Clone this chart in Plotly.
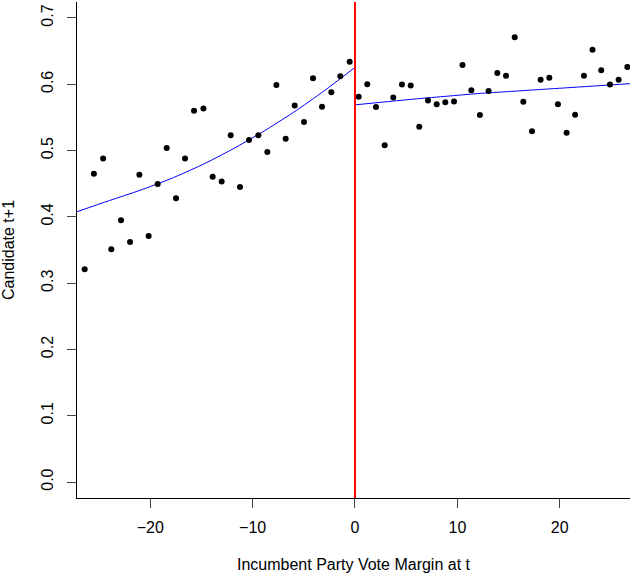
import plotly.graph_objects as go

# Binned means, left of cutoff
left_x = [-26.4, -25.5, -24.6, -23.8, -22.85, -21.97, -21.06, -20.15, -19.27, -18.39,
          -17.48, -16.6, -15.72, -14.8, -13.9, -13.02, -12.14, -11.23, -10.35, -9.44,
          -8.56, -7.68, -6.77, -5.89, -4.98, -4.1, -3.22, -2.31, -1.43, -0.52]
left_y = [0.321, 0.465, 0.488, 0.351, 0.395, 0.362, 0.4635, 0.371, 0.4495, 0.504,
          0.428, 0.488, 0.560, 0.5635, 0.4605, 0.4535, 0.523, 0.445, 0.516, 0.523,
          0.498, 0.599, 0.518, 0.568, 0.543, 0.609, 0.566, 0.588, 0.612, 0.634]

# Binned means, right of cutoff
right_x = [0.36, 1.2, 2.05, 2.9, 3.74, 4.59, 5.44, 6.28, 7.13, 7.98,
           8.82, 9.67, 10.5, 11.36, 12.2, 13.05, 13.9, 14.75, 15.6, 16.44,
           17.29, 18.13, 18.98, 19.82, 20.67, 21.5, 22.36, 23.2, 24.05, 24.9,
           25.75, 26.6]
right_y = [0.581, 0.600, 0.5656, 0.508, 0.580, 0.5998, 0.598, 0.536, 0.5757, 0.570,
           0.573, 0.574, 0.629, 0.591, 0.5535, 0.590, 0.617, 0.613, 0.671, 0.5736,
           0.529, 0.607, 0.610, 0.570, 0.527, 0.554, 0.613, 0.652, 0.621, 0.5998,
           0.607, 0.626]

# Fitted polynomial curves
fit_left_x = [-27.2, -24, -21, -18, -15, -12, -9, -6, -3, 0]
fit_left_y = [0.4075, 0.4245, 0.4400, 0.4575, 0.4780, 0.5018, 0.5283, 0.5577, 0.5902, 0.6255]
fit_right_x = [0, 3, 6, 9, 12, 15, 18, 21, 24, 27]
fit_right_y = [0.569, 0.5735, 0.578, 0.582, 0.586, 0.589, 0.592, 0.595, 0.598, 0.601]

x_ticks = [-20, -10, 0, 10, 20]
y_ticks = [0.0, 0.1, 0.2, 0.3, 0.4, 0.5, 0.6, 0.7]
y_tick_labels = ["0.0", "0.1", "0.2", "0.3", "0.4", "0.5", "0.6", "0.7"]
cutoff = 0

FONT = "Liberation Sans, Arial, sans-serif"

fig = go.Figure()
fig.add_trace(go.Scatter(x=fit_left_x, y=fit_left_y, mode="lines",
                         line=dict(color="blue", width=1, shape="spline", smoothing=0.6),
                         hoverinfo="skip"))
fig.add_trace(go.Scatter(x=fit_right_x, y=fit_right_y, mode="lines",
                         line=dict(color="blue", width=1, shape="spline", smoothing=0.6),
                         hoverinfo="skip"))
fig.add_trace(go.Scatter(x=left_x + right_x, y=left_y + right_y, mode="markers",
                         marker=dict(color="black", size=6)))
fig.add_shape(type="line", x0=cutoff, x1=cutoff, y0=0, y1=1, yref="paper",
              line=dict(color="red", width=2))

fig.update_layout(
    width=630, height=573,
    margin=dict(l=77, r=0, t=2, b=75),
    plot_bgcolor="white", paper_bgcolor="white",
    showlegend=False,
    font=dict(family=FONT, size=16, color="black"),
)
fig.update_xaxes(range=[-27.15, 26.86], tickvals=x_ticks, ticks="outside", ticklen=9,
                 showline=True, linecolor="black", linewidth=1, showgrid=False,
                 zeroline=False, tickfont=dict(size=16), ticklabelstandoff=6,
                 title=dict(text="Incumbent Party Vote Margin at t", standoff=24,
                            font=dict(size=16)))
fig.update_yaxes(range=[-0.0241, 0.7241], tickvals=y_ticks, ticktext=y_tick_labels,
                 ticks="outside", ticklen=9, tickangle=-90, ticklabelstandoff=8,
                 showline=True, linecolor="black", linewidth=1, showgrid=False,
                 zeroline=False, tickfont=dict(size=16),
                 title=dict(text="Candidate t+1", standoff=19, font=dict(size=16)))

fig.write_html("out.html")
